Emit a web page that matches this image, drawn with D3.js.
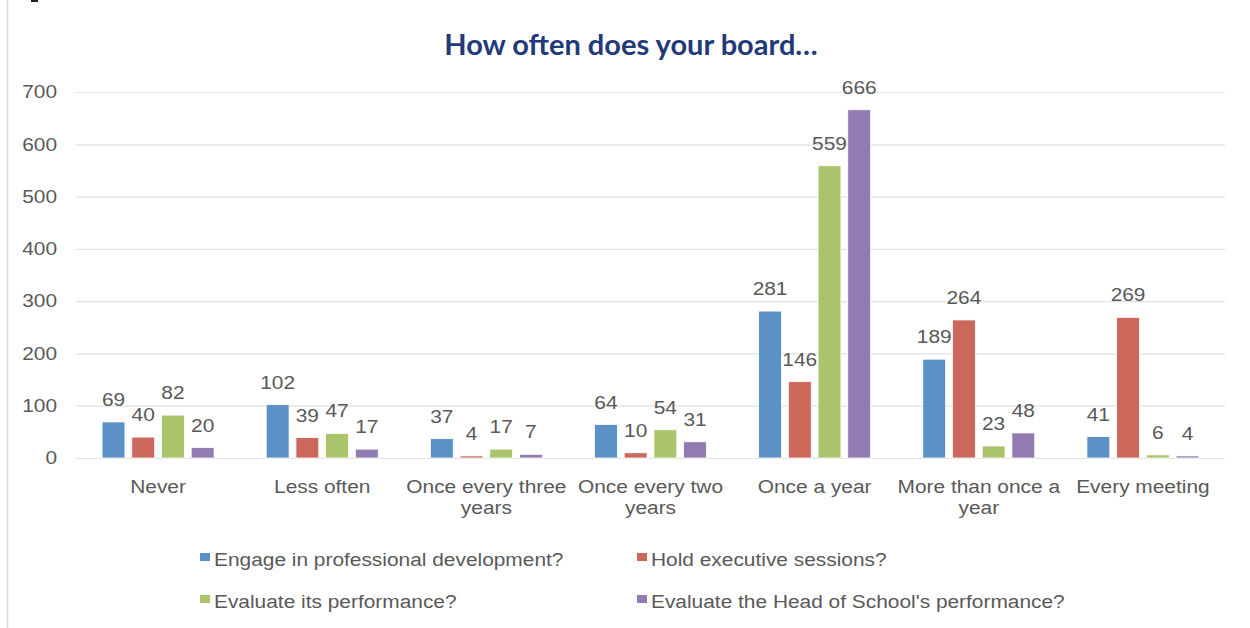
<!DOCTYPE html>
<html>
<head>
<meta charset="utf-8">
<script src="https://cdn.jsdelivr.net/npm/d3@7"></script>
<style>
  html, body { margin: 0; padding: 0; background: #fff; }
  svg { display: block; }
  text { font-family: "Liberation Sans", Arial, sans-serif; }
</style>
</head>
<body>
<svg id="chart" width="1250" height="628"></svg>
<script>
// Survey answers: how often the board does each activity
const categories = ["Never", "Less often", "Once every three years", "Once every two years",
                    "Once a year", "More than once a year", "Every meeting"];
const seriesNames = ["Engage in professional development?", "Hold executive sessions?",
                     "Evaluate its performance?", "Evaluate the Head of School's performance?"];
const professionalDev = [69, 102, 37, 64, 281, 189, 41];
const executiveSessions = [40, 39, 4, 10, 146, 264, 269];
const evaluatePerformance = [82, 47, 17, 54, 559, 23, 6];
const evaluateHead = [20, 17, 7, 31, 666, 48, 4];
const yTicks = [0, 100, 200, 300, 400, 500, 600, 700];
const colors = ["#5b91c6", "#cc675c", "#abc36a", "#917bb1"];

const seriesValues = [professionalDev, executiveSessions, evaluatePerformance, evaluateHead];
const rows = categories.map((c, i) => ({
  category: c,
  values: seriesNames.map((s, j) => ({ series: s, value: seriesValues[j][i], color: colors[j] }))
}));

const svg = d3.select("#chart");
const textColor = "#595959";
const labelSize = "18px";
const widen = 1.16; // body text is set slightly wide

// widen a text (or tspan) selection horizontally around its anchor
function stretch(sel) {
  sel.each(function () {
    const w = this.getComputedTextLength();
    if (w > 0) {
      this.setAttribute("textLength", w * widen);
      this.setAttribute("lengthAdjust", "spacingAndGlyphs");
    }
  });
}

// frame edge on the left
svg.append("line").attr("x1", 7.5).attr("x2", 7.5).attr("y1", 0).attr("y2", 628)
  .attr("stroke", "#d9d9d9").attr("stroke-width", 1.5);
svg.append("rect").attr("x", 31).attr("y", 0).attr("width", 7).attr("height", 2).attr("fill", "#222");

const plotLeft = 76, plotRight = 1225, plotTop = 92, plotBottom = 458;

const x0 = d3.scaleBand().domain(categories).range([plotLeft, plotRight]).padding(0);
const x1 = d3.scaleBand().domain(seriesNames)
  .range([x0.bandwidth() / 2 - 56, x0.bandwidth() / 2 + 56]).paddingInner(0.23);
const y = d3.scaleLinear().domain([0, 700]).range([plotBottom, plotTop]);

// title
svg.append("text")
  .attr("x", 631).attr("y", 55)
  .attr("text-anchor", "middle")
  .style("font-family", "Lato, 'Open Sans', sans-serif")
  .style("font-weight", 700)
  .style("font-size", "29px")
  .attr("fill", "#22397a")
  .text("How often does your board…");

// gridlines and value axis
const yAxis = d3.axisLeft(y).tickValues(yTicks).tickSize(-(plotRight - plotLeft)).tickPadding(19);
const gy = svg.append("g").attr("transform", `translate(${plotLeft},0)`).call(yAxis);
gy.select(".domain").remove();
gy.selectAll(".tick line").attr("stroke", "#e2e2e2").attr("stroke-width", 1.2);
gy.selectAll(".tick text")
  .attr("fill", textColor)
  .style("font-family", "'Liberation Sans', Arial, sans-serif")
  .style("font-size", labelSize)
  .call(stretch);

// bars
const groups = svg.append("g").selectAll("g").data(rows).join("g")
  .attr("transform", d => `translate(${x0(d.category)},0)`);

groups.selectAll("rect").data(d => d.values).join("rect")
  .attr("x", d => x1(d.series))
  .attr("width", x1.bandwidth())
  .attr("y", d => y(d.value))
  .attr("height", d => y(0) - y(d.value))
  .attr("fill", d => d.color)
  .attr("stroke", "#ffffff")
  .attr("stroke-width", 0.8);

groups.selectAll("text.val").data(d => d.values).join("text")
  .attr("class", "val")
  .attr("x", d => x1(d.series) + x1.bandwidth() / 2)
  .attr("y", d => y(d.value) - 16)
  .attr("text-anchor", "middle")
  .attr("fill", textColor)
  .style("font-size", labelSize)
  .text(d => d.value)
  .call(stretch);

// category labels, wrapped to the band width
const xAxis = d3.axisBottom(x0).tickSize(0).tickPadding(22);
const gx = svg.append("g").attr("transform", `translate(0,${plotBottom})`).call(xAxis);
gx.select(".domain").remove();
gx.selectAll(".tick text")
  .attr("fill", textColor)
  .style("font-family", "'Liberation Sans', Arial, sans-serif")
  .style("font-size", labelSize)
  .call(wrap, (x0.bandwidth() + 3) / widen);
gx.selectAll(".tick text tspan").call(stretch);

function wrap(sel, width) {
  sel.each(function () {
    const t = d3.select(this);
    const words = t.text().split(/\s+/);
    const yAttr = t.attr("y"), dy = parseFloat(t.attr("dy")) || 0;
    t.text(null);
    let line = [];
    let tspan = t.append("tspan").attr("x", 0).attr("y", yAttr).attr("dy", dy + "em");
    let lineNo = 0;
    words.forEach(w => {
      line.push(w);
      tspan.text(line.join(" "));
      if (tspan.node().getComputedTextLength() > width && line.length > 1) {
        line.pop();
        tspan.text(line.join(" "));
        line = [w];
        lineNo++;
        tspan = t.append("tspan").attr("x", 0).attr("y", yAttr)
          .attr("dy", (dy + lineNo * 1.2) + "em").text(w);
      }
    });
  });
}

// legend
const legendPos = [[200, 566], [637, 566], [200, 608], [637, 608]];
const legend = svg.append("g").selectAll("g").data(seriesNames).join("g")
  .attr("transform", (d, i) => `translate(${legendPos[i][0]},${legendPos[i][1]})`);
legend.append("rect").attr("x", 0).attr("y", -13).attr("width", 10).attr("height", 8)
  .attr("fill", (d, i) => colors[i]);
legend.append("text").attr("x", 14).attr("y", 0)
  .attr("fill", textColor).style("font-size", labelSize)
  .text(d => d)
  .call(stretch);
</script>
</body>
</html>
